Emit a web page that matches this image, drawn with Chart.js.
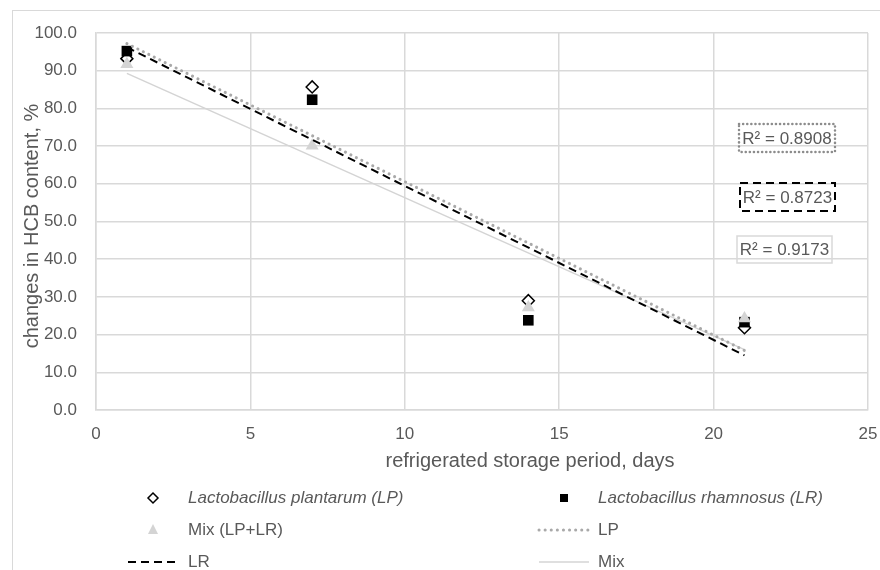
<!DOCTYPE html>
<html>
<head>
<meta charset="utf-8">
<script src="https://cdn.jsdelivr.net/npm/chart.js@4.4.1/dist/chart.umd.min.js"></script>
<style>
  html, body { margin: 0; padding: 0; background: #fff; }
  canvas { display: block; }
</style>
</head>
<body>
<canvas id="chart" width="880" height="570"></canvas>
<script>
const days = [1, 7, 14, 21];
const lpValues = [93.2, 85.7, 29.0, 21.8];
const lrValues = [95.2, 82.3, 23.8, 23.3];
const mixValues = [91.7, 70.1, 27.2, 24.3];

// linear trendlines, start and end points
const trendDays = [1, 21];
const lpTrend = [97.2, 15.8];
const lrTrend = [96.2, 14.5];
const mixTrend = [89.3, 16.0];

const rSquared = ["0.8908", "0.8723", "0.9173"];
const seriesLabels = [
  "Lactobacillus plantarum (LP)",
  "Lactobacillus rhamnosus (LR)",
  "Mix (LP+LR)",
  "LP",
  "LR",
  "Mix",
];

const FONT = '"Liberation Sans", Arial, sans-serif';
const TEXT = "#595959";
const GRID = "#d9d9d9";

const toPoints = (xs, ys) => xs.map((x, i) => ({ x: x, y: ys[i] }));

// draws legend symbols, R² boxes, axis titles and the outer frame
const decor = {
  id: "decor",
  beforeDraw(chart) {
    const ctx = chart.ctx;
    ctx.save();
    ctx.strokeStyle = GRID;
    ctx.lineWidth = 1;
    ctx.strokeRect(12.5, 10.5, 1000, 1000);
    ctx.restore();
  },
  afterDraw(chart) {
    const ctx = chart.ctx;
    ctx.save();
    ctx.fillStyle = TEXT;

    // axis titles
    ctx.font = "20px " + FONT;
    ctx.textAlign = "center";
    ctx.textBaseline = "middle";
    ctx.fillText("refrigerated storage period, days", 530, 461);
    ctx.save();
    ctx.translate(32, 226);
    ctx.rotate(-Math.PI / 2);
    ctx.fillText("changes in HCB content, %", 0, 0);
    ctx.restore();

    // R² labels
    ctx.font = "17px " + FONT;
    const boxes = [
      { x: 739, y: 124, w: 96, h: 28, color: "#8c8c8c", dash: [0.1, 4], width: 2.5, cap: "round" },
      { x: 740, y: 183, w: 95, h: 28, color: "#000", dash: [8, 5], width: 2, cap: "butt" },
      { x: 737, y: 236, w: 95, h: 27, color: GRID, dash: [], width: 1.5, cap: "butt" },
    ];
    boxes.forEach((b, i) => {
      ctx.save();
      ctx.strokeStyle = b.color;
      ctx.lineWidth = b.width;
      ctx.lineCap = b.cap;
      ctx.setLineDash(b.dash);
      ctx.strokeRect(b.x, b.y, b.w, b.h);
      ctx.restore();
      ctx.fillText("R² = " + rSquared[i], b.x + b.w / 2, b.y + b.h / 2 + 1);
    });

    // legend, two columns
    const cols = [153, 564];
    const textX = [188, 598];
    const rows = [498, 530, 562];
    chart.data.datasets.forEach((ds, i) => {
      const cx = cols[i % 2];
      const cy = rows[Math.floor(i / 2)];
      drawSymbol(ctx, ds, cx, cy);
      ctx.fillStyle = TEXT;
      ctx.font = (i < 2 ? "italic " : "") + "17px " + FONT;
      ctx.textAlign = "left";
      ctx.textBaseline = "middle";
      ctx.fillText(ds.label, textX[i % 2], cy);
    });
    ctx.restore();
  },
};

function drawSymbol(ctx, ds, cx, cy) {
  ctx.save();
  if (ds.showLine) {
    ctx.strokeStyle = ds.borderColor;
    ctx.lineWidth = ds.borderWidth;
    ctx.lineCap = ds.borderCapStyle || "butt";
    ctx.setLineDash(ds.borderDash || []);
    ctx.beginPath();
    ctx.moveTo(cx - 25, cy);
    ctx.lineTo(cx + 25, cy);
    ctx.stroke();
  } else {
    ctx.fillStyle = ds.backgroundColor;
    ctx.strokeStyle = ds.borderColor;
    ctx.lineWidth = ds.borderWidth;
    ctx.beginPath();
    if (ds.pointStyle === "rectRot") {
      ctx.moveTo(cx, cy - 5);
      ctx.lineTo(cx + 5, cy);
      ctx.lineTo(cx, cy + 5);
      ctx.lineTo(cx - 5, cy);
      ctx.closePath();
    } else if (ds.pointStyle === "rect") {
      ctx.rect(cx - 4, cy - 4, 8, 8);
    } else {
      ctx.moveTo(cx, cy - 6);
      ctx.lineTo(cx + 5, cy + 4);
      ctx.lineTo(cx - 5, cy + 4);
      ctx.closePath();
    }
    ctx.fill();
    if (ds.borderWidth) ctx.stroke();
  }
  ctx.restore();
}

new Chart(document.getElementById("chart"), {
  type: "scatter",
  data: {
    datasets: [
      {
        label: seriesLabels[0],
        data: toPoints(days, lpValues),
        pointStyle: "rectRot",
        pointRadius: 6,
        backgroundColor: "#fff",
        borderColor: "#000",
        borderWidth: 1.5,
        order: 6,
      },
      {
        label: seriesLabels[1],
        data: toPoints(days, lrValues),
        pointStyle: "rect",
        pointRadius: 7.5,
        backgroundColor: "#000",
        borderColor: "#000",
        borderWidth: 0,
        order: 5,
      },
      {
        label: seriesLabels[2],
        data: toPoints(days, mixValues),
        pointStyle: "triangle",
        pointRadius: 7.5,
        backgroundColor: "#d4d4d4",
        borderColor: "#d4d4d4",
        borderWidth: 0,
        order: 4,
      },
      {
        label: seriesLabels[3],
        data: toPoints(trendDays, lpTrend),
        showLine: true,
        pointRadius: 0,
        borderColor: "#a9a9a9",
        borderWidth: 3,
        borderDash: [0.1, 6],
        borderCapStyle: "round",
        order: 2,
      },
      {
        label: seriesLabels[4],
        data: toPoints(trendDays, lrTrend),
        showLine: true,
        pointRadius: 0,
        borderColor: "#000",
        borderWidth: 2,
        borderDash: [8, 5],
        order: 1,
      },
      {
        label: seriesLabels[5],
        data: toPoints(trendDays, mixTrend),
        showLine: true,
        pointRadius: 0,
        borderColor: "#d4d4d4",
        borderWidth: 1.5,
        order: 3,
      },
    ],
  },
  options: {
    responsive: false,
    animation: false,
    layout: { padding: { top: 33, right: 12, left: 0, bottom: 0 } },
    plugins: {
      legend: { display: false },
      tooltip: { enabled: false },
    },
    scales: {
      x: {
        type: "linear",
        min: 0,
        max: 25,
        ticks: {
          stepSize: 5,
          padding: 14,
          color: TEXT,
          font: { family: FONT, size: 17 },
        },
        grid: { color: GRID, lineWidth: 1.5, drawTicks: false },
        border: { color: GRID, width: 1.5 },
        afterFit: (scale) => {
          scale.height = 160;
          // let the "25" label run past the plot edge, as in the original
          scale.paddingRight = 0;
          scale.paddingLeft = 0;
        },
      },
      y: {
        min: 0,
        max: 100,
        ticks: {
          stepSize: 10,
          padding: 19,
          color: TEXT,
          font: { family: FONT, size: 17 },
          callback: (v) => v.toFixed(1),
        },
        grid: { color: GRID, lineWidth: 1.5, drawTicks: false },
        border: { color: GRID, width: 1.5 },
        afterFit: (scale) => { scale.width = 96; },
      },
    },
  },
  plugins: [decor],
});
</script>
</body>
</html>
